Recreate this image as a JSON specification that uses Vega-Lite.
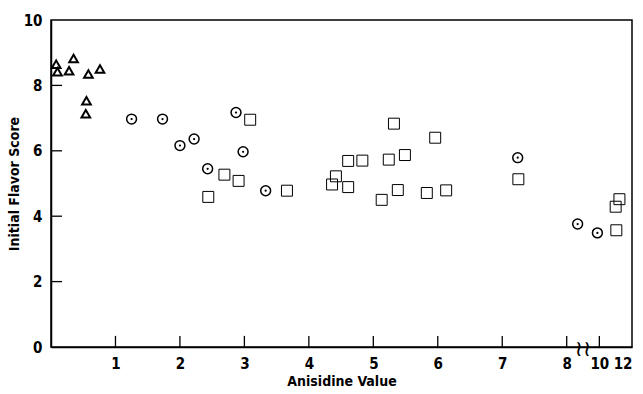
{
  "$schema": "https://vega.github.io/schema/vega-lite/v6.json",
  "width": 581,
  "height": 327,
  "autosize": {"type": "none"},
  "padding": {"left": 51, "top": 20, "right": 11, "bottom": 47},
  "background": "white",
  "config": {
    "view": {"stroke": "black", "strokeWidth": 1.5},
    "font": "DejaVu Sans Condensed, Roboto Condensed, Liberation Sans Narrow, Roboto, sans-serif",
    "axis": {
      "domainColor": "black", "domainWidth": 1.5, "ticks": false,
      "grid": false,
      "labelFont": "DejaVu Sans Condensed, Roboto Condensed, Liberation Sans Narrow, Roboto, sans-serif", "labelFontWeight": "bold",
      "labelFontSize": 15, "labelColor": "black",
      "titleFont": "DejaVu Sans Condensed, Roboto Condensed, Liberation Sans Narrow, Roboto, sans-serif",
      "titleFontWeight": "bold", "titleFontSize": 14, "titleColor": "black"
    }
  },
  "datasets": {
    "points": [
      {"x": 0.08, "y": 8.65, "g": "triangle"},
      {"x": 0.1, "y": 8.42, "g": "triangle"},
      {"x": 0.28, "y": 8.45, "g": "triangle"},
      {"x": 0.35, "y": 8.82, "g": "triangle"},
      {"x": 0.58, "y": 8.35, "g": "triangle"},
      {"x": 0.76, "y": 8.5, "g": "triangle"},
      {"x": 0.55, "y": 7.53, "g": "triangle"},
      {"x": 0.54, "y": 7.13, "g": "triangle"},
      {"x": 1.25, "y": 6.97, "g": "circle"},
      {"x": 1.73, "y": 6.97, "g": "circle"},
      {"x": 2.0, "y": 6.16, "g": "circle"},
      {"x": 2.22, "y": 6.36, "g": "circle"},
      {"x": 2.43, "y": 5.45, "g": "circle"},
      {"x": 2.87, "y": 7.17, "g": "circle"},
      {"x": 2.98, "y": 5.97, "g": "circle"},
      {"x": 3.33, "y": 4.78, "g": "circle"},
      {"x": 7.24, "y": 5.79, "g": "circle"},
      {"x": 8.67, "y": 3.76, "g": "circle"},
      {"x": 9.88, "y": 3.49, "g": "circle"},
      {"x": 3.09, "y": 6.95, "g": "square"},
      {"x": 2.69, "y": 5.27, "g": "square"},
      {"x": 2.91, "y": 5.08, "g": "square"},
      {"x": 2.44, "y": 4.59, "g": "square"},
      {"x": 3.66, "y": 4.78, "g": "square"},
      {"x": 4.42, "y": 5.22, "g": "square"},
      {"x": 4.36, "y": 4.97, "g": "square"},
      {"x": 4.61, "y": 4.89, "g": "square"},
      {"x": 4.61, "y": 5.69, "g": "square"},
      {"x": 4.83, "y": 5.7, "g": "square"},
      {"x": 5.32, "y": 6.83, "g": "square"},
      {"x": 5.24, "y": 5.73, "g": "square"},
      {"x": 5.49, "y": 5.87, "g": "square"},
      {"x": 5.13, "y": 4.5, "g": "square"},
      {"x": 5.38, "y": 4.8, "g": "square"},
      {"x": 5.96, "y": 6.4, "g": "square"},
      {"x": 5.83, "y": 4.71, "g": "square"},
      {"x": 6.13, "y": 4.79, "g": "square"},
      {"x": 7.25, "y": 5.13, "g": "square"},
      {"x": 11.23, "y": 4.52, "g": "square"},
      {"x": 11.0, "y": 4.29, "g": "square"},
      {"x": 11.04, "y": 3.57, "g": "square"}
    ],
    "xticks": [{"t": 1}, {"t": 2}, {"t": 3}, {"t": 4}, {"t": 5}, {"t": 6}, {"t": 7}, {"t": 8}, {"t": 10}],
    "yticks": [{"t": 2}, {"t": 4}, {"t": 6}, {"t": 8}]
  },
  "layer": [
    {
      "data": {"name": "points"},
      "mark": {"type": "point", "filled": false, "opacity": 1, "color": "black"},
      "encoding": {
        "x": {"field": "x", "type": "quantitative",
          "scale": {"domain": [0, 8, 12], "range": [0, 515.7, 581], "nice": false, "zero": false},
          "axis": {"values": [1, 2, 3, 4, 5, 6, 7, 8, 10, 12], "labelPadding": 9,
            "title": "Anisidine Value", "titlePadding": 3}},
        "y": {"field": "y", "type": "quantitative",
          "scale": {"domain": [0, 10], "nice": false},
          "axis": {"values": [0, 2, 4, 6, 8, 10], "labelPadding": 9,
            "title": "Initial Flavor Score", "titlePadding": 2}},
        "shape": {"field": "g", "type": "nominal",
          "scale": {"domain": ["triangle", "circle", "square"], "range": ["triangle-up", "circle", "square"]}, "legend": null},
        "size": {"field": "g", "type": "nominal",
          "scale": {"domain": ["triangle", "circle", "square"], "range": [75, 120, 75]}, "legend": null},
        "strokeWidth": {"field": "g", "type": "nominal",
          "scale": {"domain": ["triangle", "circle", "square"], "range": [2, 1, 2]}, "legend": null}
      }
    },
    {
      "data": {"name": "points"},
      "transform": [{"filter": "datum.g === 'circle'"}],
      "mark": {"type": "circle", "color": "black", "opacity": 1, "size": 5},
      "encoding": {
        "x": {"field": "x", "type": "quantitative"},
        "y": {"field": "y", "type": "quantitative"}
      }
    },
    {
      "data": {"name": "xticks"},
      "mark": {"type": "rule", "color": "black", "strokeWidth": 1.3},
      "encoding": {
        "x": {"field": "t", "type": "quantitative"},
        "y": {"datum": 0},
        "y2": {"datum": 0.34}
      }
    },
    {
      "data": {"name": "yticks"},
      "mark": {"type": "tick", "orient": "horizontal", "color": "black", "size": 11, "thickness": 1.3, "opacity": 1, "xOffset": 0},
      "encoding": {
        "y": {"field": "t", "type": "quantitative"},
        "x": {"datum": 0.085}
      }
    },
    {
      "data": {"values": [{}]},
      "mark": {"type": "text", "text": "≀≀", "font": "DejaVu Sans", "fontSize": 22, "color": "black", "baseline": "middle", "align": "center", "dy": 2},
      "encoding": {"x": {"datum": 9}, "y": {"datum": 0}}
    }
  ]
}
